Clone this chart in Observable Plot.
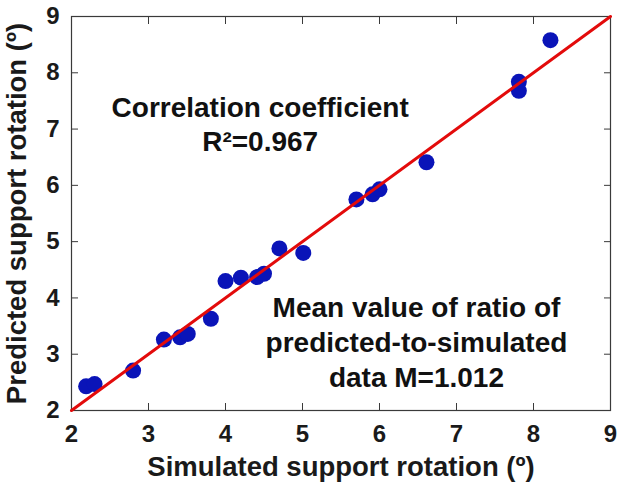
<!DOCTYPE html>
<html>
<head>
<meta charset="utf-8">
<script src="https://cdn.jsdelivr.net/npm/d3@7"></script>
<script src="https://cdn.jsdelivr.net/npm/@observablehq/plot@0.6"></script>
<style>
  html, body { margin: 0; padding: 0; background: #fff; }
  #chart { width: 617px; height: 482px; }
</style>
</head>
<body>
<div id="chart"></div>
<script>
// Simulated vs predicted support rotation (degrees)
const simulated = [2.19, 2.30, 2.80, 3.20, 3.41, 3.51, 3.81, 4.00, 4.20, 4.41, 4.50, 4.70, 5.01, 5.70, 5.91, 6.00, 6.61, 7.81, 7.81, 8.22];
const predicted = [2.43, 2.47, 2.71, 3.26, 3.30, 3.36, 3.63, 4.30, 4.36, 4.37, 4.43, 4.88, 4.80, 5.75, 5.84, 5.93, 6.41, 7.84, 7.68, 8.58];
const xTicks = [2, 3, 4, 5, 6, 7, 8, 9];
const yTicks = [2, 3, 4, 5, 6, 7, 8, 9];
const identityLine = [2, 9]; // y = x reference line
const noteCorrelation = ["Correlation coefficient", "R²=0.967"];
const noteRatio = ["Mean value of ratio of", "predicted-to-simulated", "data M=1.012"];

const points = simulated.map((s, i) => ({simulated: s, predicted: predicted[i]}));
const font = "'Liberation Sans', Arial, Helvetica, sans-serif";
const axisColor = "#3a3a3a";
const fmt = d3.format("d");

const chart = Plot.plot({
  width: 617,
  height: 482,
  marginLeft: 71,
  marginRight: 7,
  marginTop: 16,
  marginBottom: 72,
  style: {fontFamily: font, fontSize: "23px", fontWeight: "bold", color: "#1a1a1a", background: "#fff", overflow: "visible"},
  x: {domain: [2, 9]},
  y: {domain: [2, 9]},
  marks: [
    Plot.frame({stroke: axisColor, strokeWidth: 1.2}),
    Plot.axisX({anchor: "bottom", ticks: xTicks, tickFormat: fmt, tickSize: -7, tickPadding: 21, stroke: axisColor,
      fontSize: 24, fontWeight: "bold", fill: "#1a1a1a", label: null}),
    Plot.axisX({anchor: "bottom", ticks: [], label: "Simulated support rotation (º)", labelAnchor: "center", labelArrow: "none",
      labelOffset: 65, fontSize: 27.5, fontWeight: "bold", fill: "#1a1a1a"}),
    Plot.axisX({anchor: "top", ticks: xTicks, tickSize: -7, tickFormat: () => "", label: null, stroke: axisColor}),
    Plot.axisY({anchor: "left", ticks: yTicks, tickFormat: fmt, tickSize: -7, tickPadding: 19, stroke: axisColor,
      fontSize: 24, fontWeight: "bold", fill: "#1a1a1a", label: null}),
    Plot.axisY({anchor: "left", ticks: [], label: "Predicted support rotation (º)", labelAnchor: "center", labelArrow: "none",
      labelOffset: 65, fontSize: 27.5, fontWeight: "bold", fill: "#1a1a1a"}),
    Plot.axisY({anchor: "right", ticks: yTicks, tickSize: -7, tickFormat: () => "", label: null, stroke: axisColor}),
    Plot.dot(points, {x: "simulated", y: "predicted", r: 8, fill: "#0a14b8", stroke: "none"}),
    Plot.line(identityLine, {x: d => d, y: d => d, stroke: "#e30b0b", strokeWidth: 3}),
    Plot.text([noteCorrelation.join("\n")], {x: 4.45, y: 7.1, text: d => d, fontSize: 28, fontWeight: "bold", fill: "#111",
      lineHeight: 1.2, textAnchor: "middle"}),
    Plot.text([noteRatio.join("\n")], {x: 6.48, y: 3.24, text: d => d, fontSize: 28, fontWeight: "bold", fill: "#111",
      lineHeight: 1.25, textAnchor: "middle"})
  ]
});
document.getElementById("chart").appendChild(chart);
</script>
</body>
</html>
